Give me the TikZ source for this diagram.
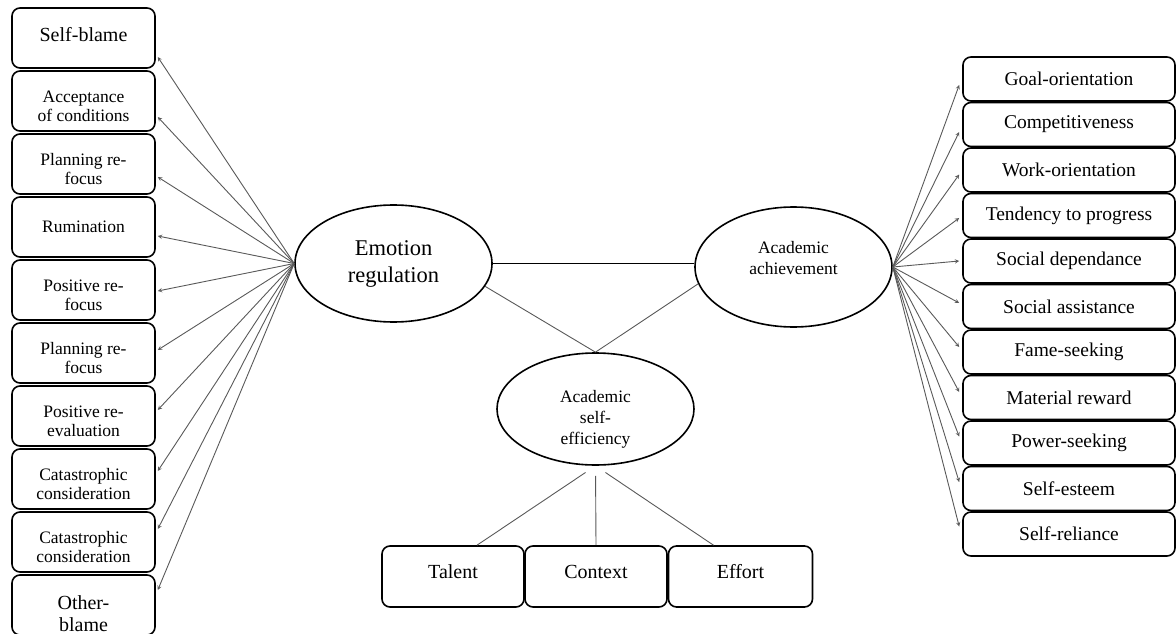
\documentclass[tikz,border=0pt]{standalone}
\usepackage{fontspec}
\setmainfont{Liberation Serif}
\usetikzlibrary{shapes.geometric,calc}

\newcommand{\padtop}[1]{\rule{0pt}{#1}}

\tikzset{
  factor/.style={draw,ellipse,line width=1.6pt,inner sep=0pt,align=center,minimum width=197pt},
  itembox/.style={draw,rounded corners=8pt,line width=1.6pt,inner sep=0pt,align=center},
  leftbox/.style={itembox,minimum width=143pt,minimum height=60pt,font=\fontsize{17.5}{19}\selectfont},
  rightbox/.style={itembox,minimum width=212pt,minimum height=44pt,font=\fontsize{19.5}{22}\selectfont},
  basebox/.style={itembox,minimum width=142pt,minimum height=61pt,font=\fontsize{20}{22}\selectfont,raised=10pt},
  raised/.style={execute at end node={\rule[-#1]{0pt}{0pt}}},
  link/.style={draw=black!65,line width=0.9pt},
  load/.style={link,->,>=stealth}
}

\begin{document}
\begin{tikzpicture}[x=1pt,y=-1pt]
  \useasboundingbox (0,0) rectangle (1176,634);

  % latent factors
  \node [factor,minimum height=117pt,font=\fontsize{22.5}{27}\selectfont] (ER) at (393.5,263.5) {Emotion\\regulation};
  \node [factor,minimum height=120pt,font=\fontsize{17.5}{21}\selectfont,raised=18pt] (AA) at (793.5,267) {Academic\\achievement};
  \node [factor,minimum height=112pt,font=\fontsize{17.5}{21}\selectfont] (ASE) at (595.5,409) {\padtop{32pt}Academic\\self-\\efficiency};

  % emotion regulation items
  \node [leftbox,font=\fontsize{20}{22}\selectfont,raised=8pt] (L1) at (83.5,38) {Self-blame};
  \node [leftbox] (L2) at (83.5,101) {\padtop{22pt}Acceptance\\of conditions};
  \node [leftbox] (L3) at (83.5,164) {\padtop{22pt}Planning re-\\focus};
  \node [leftbox] (L4) at (83.5,227) {Rumination};
  \node [leftbox] (L5) at (83.5,290) {\padtop{22pt}Positive re-\\focus};
  \node [leftbox] (L6) at (83.5,353) {\padtop{22pt}Planning re-\\focus};
  \node [leftbox] (L7) at (83.5,416) {\padtop{22pt}Positive re-\\evaluation};
  \node [leftbox] (L8) at (83.5,479) {\padtop{22pt}Catastrophic\\consideration};
  \node [leftbox] (L9) at (83.5,542) {\padtop{22pt}Catastrophic\\consideration};
  \node [leftbox,font=\fontsize{20}{22}\selectfont] (L10) at (83.5,605) {\padtop{32pt}Other-\\blame};

  % achievement items
  \node [rightbox] (R1) at (1069,79) {Goal-orientation};
  \node [rightbox] (R2) at (1069,124.5) {Competitiveness};
  \node [rightbox] (R3) at (1069,170) {Work-orientation};
  \node [rightbox] (R4) at (1069,215.5) {Tendency to progress};
  \node [rightbox] (R5) at (1069,261) {Social dependance};
  \node [rightbox] (R6) at (1069,306.5) {Social assistance};
  \node [rightbox] (R7) at (1069,352) {Fame-seeking};
  \node [rightbox] (R8) at (1069,397.5) {Material reward};
  \node [rightbox] (R9) at (1069,443) {Power-seeking};
  \node [rightbox] (R10) at (1069,488.5) {Self-esteem};
  \node [rightbox] (R11) at (1069,534) {Self-reliance};

  % self-efficiency items
  \node [basebox] (T) at (453,576.5) {Talent};
  \node [basebox] (C) at (596,576.5) {Context};
  \node [basebox,minimum width=144pt] (E) at (740.5,576.5) {Effort};

  % links between factors
  \draw [line width=1pt] (ER.east) -- (ER.east -| AA.west);
  \draw [link] (ER.-14) -- (ASE.north);
  \draw [link] (AA.190) -- (ASE.north);

  \draw [load] (ER.west) -- ($(L1.east)+(2,19)$);
  \draw [load] (ER.west) -- ($(L2.east)+(2,16)$);
  \draw [load] (ER.west) -- ($(L3.east)+(2,13)$);
  \draw [load] (ER.west) -- ($(L4.east)+(2,9)$);
  \draw [load] (ER.west) -- ($(L5.east)+(2,1)$);
  \draw [load] (ER.west) -- ($(L6.east)+(2,-3)$);
  \draw [load] (ER.west) -- ($(L7.east)+(2,-6)$);
  \draw [load] (ER.west) -- ($(L8.east)+(2,-8)$);
  \draw [load] (ER.west) -- ($(L9.east)+(2,-13)$);
  \draw [load] (ER.west) -- ($(L10.east)+(2,-15)$);

  \draw [load] (AA.east) -- ($(R1.west)+(-3,6)$);
  \draw [load] (AA.east) -- ($(R2.west)+(-3,7.5)$);
  \draw [load] (AA.east) -- ($(R3.west)+(-3,4.5)$);
  \draw [load] (AA.east) -- ($(R4.west)+(-3,2.5)$);
  \draw [load] (AA.east) -- ($(R5.west)+(-3,0)$);
  \draw [load] (AA.east) -- ($(R6.west)+(-3,-3.5)$);
  \draw [load] (AA.east) -- ($(R7.west)+(-3,-5)$);
  \draw [load] (AA.east) -- ($(R8.west)+(-3,-5.5)$);
  \draw [load] (AA.east) -- ($(R9.west)+(-3,-6.5)$);
  \draw [load] (AA.east) -- ($(R10.west)+(-3,-6.5)$);
  \draw [load] (AA.east) -- ($(R11.west)+(-3,-7.5)$);

  \draw [link,shorten <=12pt] (ASE.south) -- ($(T.north)+(24,0)$);
  \draw [link,shorten <=10pt] (ASE.south) -- (C.north);
  \draw [link,shorten <=12pt] (ASE.south) -- ($(E.north)+(-27,0)$);
\end{tikzpicture}
\end{document}
